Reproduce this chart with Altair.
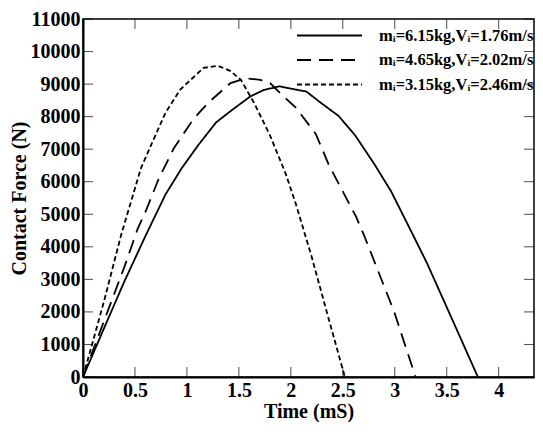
import altair as alt
import pandas as pd

# ---- data ----
labels = ["mᵢ=6.15kg,Vᵢ=1.76m/s", "mᵢ=4.65kg,Vᵢ=2.02m/s", "mᵢ=3.15kg,Vᵢ=2.46m/s"]

t_615 = [0, 0.2, 0.4, 0.605, 0.794, 0.951, 1.108, 1.28, 1.42, 1.61, 1.74, 1.89, 2.05, 2.15,
         2.27, 2.46, 2.62, 2.80, 2.964, 3.09, 3.184, 3.31, 3.55, 3.80]
f_615 = [0, 1480, 2950, 4360, 5610, 6420, 7120, 7820, 8170, 8620, 8820, 8930, 8830, 8770,
         8470, 8020, 7420, 6560, 5710, 4910, 4310, 3500, 1790, 0]

t_465 = [0, 0.2, 0.4, 0.526, 0.606, 0.731, 0.873, 1.061, 1.203, 1.42, 1.564, 1.706, 1.80,
         1.93, 2.05, 2.24, 2.366, 2.63, 2.71, 2.995, 3.20]
f_465 = [0, 1700, 3400, 4550, 5110, 6110, 7020, 7920, 8420, 9030, 9180, 9130, 9030,
         8620, 8270, 7470, 6515, 4910, 4310, 2000, 0]

t_315 = [0, 0.1, 0.2, 0.37, 0.464, 0.558, 0.668, 0.794, 0.936, 1.16, 1.30, 1.42, 1.52,
         1.65, 1.80, 1.95, 2.05, 2.2, 2.35, 2.52]
f_315 = [0, 1150, 2300, 4400, 5410, 6420, 7220, 8120, 8830, 9500, 9560, 9400, 9130,
         8400, 7420, 6250, 5300, 3700, 1950, 0]

x_ticks = [0, 0.5, 1, 1.5, 2, 2.5, 3, 3.5, 4]
y_ticks = [0, 1000, 2000, 3000, 4000, 5000, 6000, 7000, 8000, 9000, 10000, 11000]
x_max = 4.34
y_max = 11000

rows = []
for lab, ts, fs in zip(labels, [t_615, t_465, t_315], [f_615, f_465, f_315]):
    for i, (t, f) in enumerate(zip(ts, fs)):
        rows.append({"series": lab, "t": t, "f": f, "order": i})
df = pd.DataFrame(rows)

FONT = "Liberation Serif"

xscale = alt.Scale(domain=[0, x_max], nice=False, zero=False)
yscale = alt.Scale(domain=[0, y_max], nice=False)

x_axis = alt.Axis(values=x_ticks, format="~g", ticks=False, grid=False, labelPadding=3,
                  titlePadding=1, domainWidth=2, domainColor="black",
                  labelFlush=False, labelOverlap=False, title="Time (mS)")
y_axis = alt.Axis(values=y_ticks, format="d", ticks=False, grid=False, labelPadding=3,
                  titlePadding=1, domainWidth=2, domainColor="black",
                  labelFlush=False, labelOverlap=False, title="Contact Force (N)")

lines = alt.Chart(df).mark_line(color="black", strokeWidth=1.8, clip=True).encode(
    x=alt.X("t:Q", scale=xscale, axis=x_axis),
    y=alt.Y("f:Q", scale=yscale, axis=y_axis),
    strokeDash=alt.StrokeDash(
        "series:N",
        scale=alt.Scale(domain=labels, range=[[1, 0], [14, 8], [5, 3]]),
        legend=alt.Legend(orient="none", legendX=237, legendY=7, title=None,
                          symbolType="M-4,0H4", symbolSize=264, symbolStrokeWidth=1.8,
                          symbolStrokeColor="black", labelFontSize=16.5, labelFont=FONT,
                          labelFontWeight="bold", labelColor="black", labelOffset=40,
                          rowPadding=6.5, padding=0, labelLimit=300),
    ),
    order="order:Q",
)

tick_x = pd.DataFrame({"v": x_ticks})
tick_y = pd.DataFrame({"v": y_ticks})

xb = alt.Chart(tick_x).mark_tick(orient="vertical", size=10, yOffset=-5, color="black",
                                 thickness=1).encode(
    x=alt.X("v:Q", scale=xscale, axis=x_axis),
    y=alt.YDatum(0, scale=yscale, axis=y_axis))
xt = alt.Chart(tick_x).mark_tick(orient="vertical", size=10, yOffset=5, color="black",
                                 thickness=1).encode(
    x=alt.X("v:Q", scale=xscale, axis=x_axis),
    y=alt.YDatum(y_max, scale=yscale, axis=y_axis))
yl = alt.Chart(tick_y).mark_tick(orient="horizontal", size=10, xOffset=5, color="black",
                                 thickness=1).encode(
    y=alt.Y("v:Q", scale=yscale, axis=y_axis),
    x=alt.XDatum(0, scale=xscale, axis=x_axis))
yr = alt.Chart(tick_y).mark_tick(orient="horizontal", size=10, xOffset=-5, color="black",
                                 thickness=1).encode(
    y=alt.Y("v:Q", scale=yscale, axis=y_axis),
    x=alt.XDatum(x_max, scale=xscale, axis=x_axis))

chart = alt.layer(lines, xb, xt, yl, yr).properties(
    width=451, height=358, background="white",
    autosize=alt.AutoSizeParams(type="none"),
    padding={"left": 75, "top": 11, "right": 1, "bottom": 45},
).configure_view(stroke="black", strokeWidth=1.5).configure_axis(
    labelFont=FONT, labelFontSize=20, labelFontWeight="bold", labelColor="black",
    titleFont=FONT, titleFontSize=20, titleFontWeight="bold", titleColor="black",
)

chart.save("out.html", embed_options={"renderer": "svg", "actions": False})
